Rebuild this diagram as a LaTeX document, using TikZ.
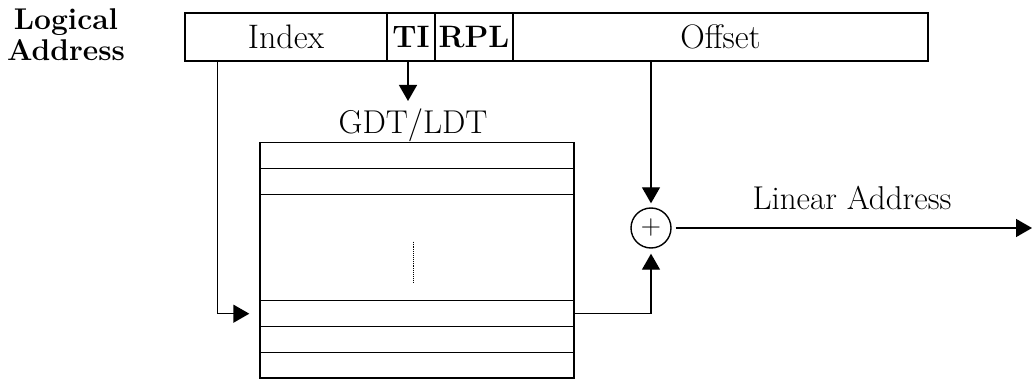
\documentclass[tikz,border=0pt]{standalone}
\usetikzlibrary{arrows.meta,calc}
\begin{document}
\begin{tikzpicture}[x=1pt,y=-1pt,
  lw/.style={line width=1.4pt},
  cell/.style={draw,lw,rectangle,inner sep=0pt,minimum height=48pt,anchor=center,font=\fontsize{34}{38}\selectfont},
  bcell/.style={cell,font=\fontsize{31}{36}\selectfont\bfseries},
  trow/.style={draw,lw,rectangle,inner sep=0pt,minimum width=314pt,anchor=north},
  arr/.style={lw,-{Triangle[length=16pt,width=18pt]}},
  lbl/.style={font=\fontsize{33}{38}\selectfont}]
\useasboundingbox (0,0) rectangle (1032,379);
% logical address label
\node[font=\fontsize{30}{35}\selectfont\bfseries,align=center] (la) at (66,35) {Logical\\[-4pt]Address};
% address bar
\node[cell,minimum width=202pt] (index) at (286,37) {Index};
\node[bcell,minimum width=48pt] (ti) at (411,37) {TI};
\node[bcell,minimum width=78pt] (rpl) at (474,37) {RPL};
\node[cell,minimum width=415pt] (offset) at (720.5,37) {Offset};
% table
\node[lbl] (gdt) at (413,125) {GDT/LDT};
\coordinate (tiin) at (408,101);
\node[trow,minimum height=26pt] (r1) at (417,142) {};
\node[trow,minimum height=26pt] (r2) at (417,168) {};
\node[trow,minimum height=106pt] (rmid) at (417,194) {};
\node[trow,minimum height=26pt] (rsel) at (417,300) {};
\node[trow,minimum height=26pt] (r5) at (417,326) {};
\node[trow,minimum height=25.3pt] (r6) at (417,352) {};
\draw[line width=0.9pt,densely dotted] ($(rmid.center)+(-4,-6)$) -- ($(rmid.center)+(-4,34)$);
% adder
\node[draw,lw,circle,minimum size=40pt,inner sep=0pt,font=\fontsize{28}{30}\selectfont] (plus) at (651,228) {\raisebox{-2pt}{+}};
\coordinate (out) at (1032,228);
\node[lbl] (lin) at (852,198) {Linear Address};
% connectors
\draw[arr,shorten >=10pt] ([xshift=33pt]index.south west) |- (rsel.west);
\draw[arr] (ti.south -| tiin) -- (tiin);
\draw[arr,shorten >=4pt] (offset.south -| plus.north) -- (plus.north);
\draw[arr,shorten >=5pt] (rsel.east) -| (plus.south);
\draw[arr,shorten <=4pt] (plus.east) -- (out);
\end{tikzpicture}
\end{document}
